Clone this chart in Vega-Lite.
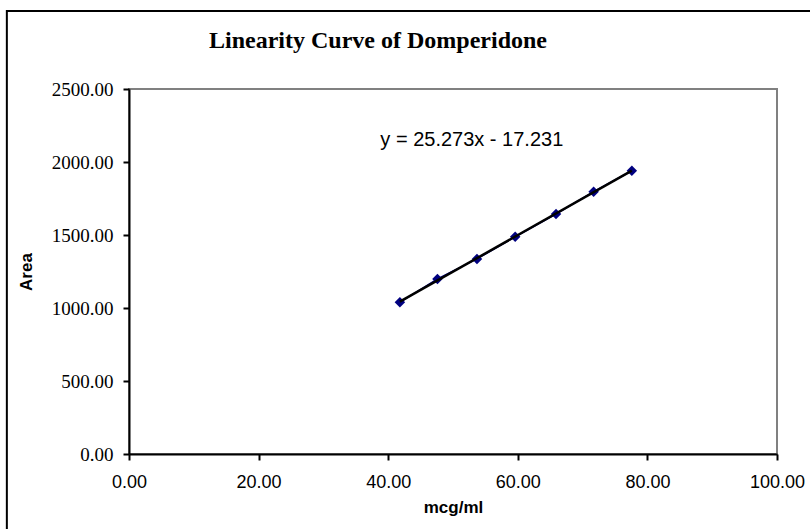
{
  "$schema": "https://vega.github.io/schema/vega-lite/v6.json",
  "width": 648,
  "height": 365,
  "autosize": "none",
  "padding": {"left": 129, "top": 89, "right": 33, "bottom": 75},
  "background": "white",
  "title": {
    "text": "Linearity Curve of Domperidone",
    "font": "Liberation Serif",
    "fontSize": 24,
    "fontWeight": "bold",
    "color": "black",
    "anchor": "middle",
    "dx": -75,
    "frame": "group",
    "baseline": "alphabetic",
    "offset": 0,
    "dy": 62
  },
  "config": {
    "view": {"stroke": "#808080", "strokeWidth": 2},
    "axis": {
      "grid": false,
      "domainColor": "black",
      "domainWidth": 2,
      "tickColor": "black",
      "tickWidth": 2,
      "tickSize": 6,
      "labelColor": "black",
      "titleColor": "black",
      "titleFont": "Liberation Sans",
      "titleFontWeight": "bold",
      "titleFontSize": 17
    }
  },
  "data": {
    "values": [
      {"conc": 41.8, "area": 1039},
      {"conc": 47.6, "area": 1199},
      {"conc": 53.7, "area": 1336},
      {"conc": 59.6, "area": 1488},
      {"conc": 65.9, "area": 1644},
      {"conc": 71.7, "area": 1797},
      {"conc": 77.6, "area": 1940}
    ]
  },
  "layer": [
    {
      "mark": {"type": "line", "color": "#000080", "strokeWidth": 1.5},
      "encoding": {
        "x": {
          "field": "conc", "type": "quantitative",
          "scale": {"domain": [0, 100], "nice": false, "zero": false},
          "axis": {
            "title": "mcg/ml",
            "values": [0, 20, 40, 60, 80, 100],
            "format": ".2f",
            "labelFont": "Liberation Sans",
            "labelFontSize": 18,
            "labelPadding": 13,
            "labelFlush": false,
            "labelOverlap": false,
            "titlePadding": 8
          }
        },
        "y": {
          "field": "area", "type": "quantitative",
          "scale": {"domain": [0, 2500], "nice": false, "zero": false},
          "axis": {
            "title": "Area",
            "values": [0, 500, 1000, 1500, 2000, 2500],
            "format": ".2f",
            "labelFont": "Liberation Serif",
            "labelFontSize": 19,
            "labelPadding": 10,
            "labelFlush": false,
            "labelOverlap": false,
            "titlePadding": 16
          }
        }
      }
    },
    {
      "mark": {"type": "point", "shape": "diamond", "filled": true, "color": "#000080", "size": 110, "opacity": 1},
      "encoding": {
        "x": {"field": "conc", "type": "quantitative"},
        "y": {"field": "area", "type": "quantitative"}
      }
    },
    {
      "transform": [{"regression": "area", "on": "conc"}],
      "mark": {"type": "line", "color": "black", "strokeWidth": 2.5},
      "encoding": {
        "x": {"field": "conc", "type": "quantitative"},
        "y": {"field": "area", "type": "quantitative"}
      }
    },
    {
      "data": {"values": [{"label": "y = 25.273x - 17.231"}]},
      "mark": {"type": "text", "font": "Liberation Sans", "fontSize": 20, "fontWeight": "normal", "color": "black", "align": "center", "baseline": "middle"},
      "encoding": {
        "x": {"datum": 52.9, "type": "quantitative"},
        "y": {"datum": 2151, "type": "quantitative"},
        "text": {"field": "label"}
      }
    },
    {
      "data": {"values": [{"frame": "outer"}]},
      "mark": {"type": "rect", "fill": null, "stroke": "black", "strokeWidth": 2, "clip": false},
      "encoding": {
        "x": {"datum": -18.85, "type": "quantitative"},
        "x2": {"datum": 107},
        "y": {"datum": 3034, "type": "quantitative"},
        "y2": {"datum": -560}
      }
    }
  ]
}
